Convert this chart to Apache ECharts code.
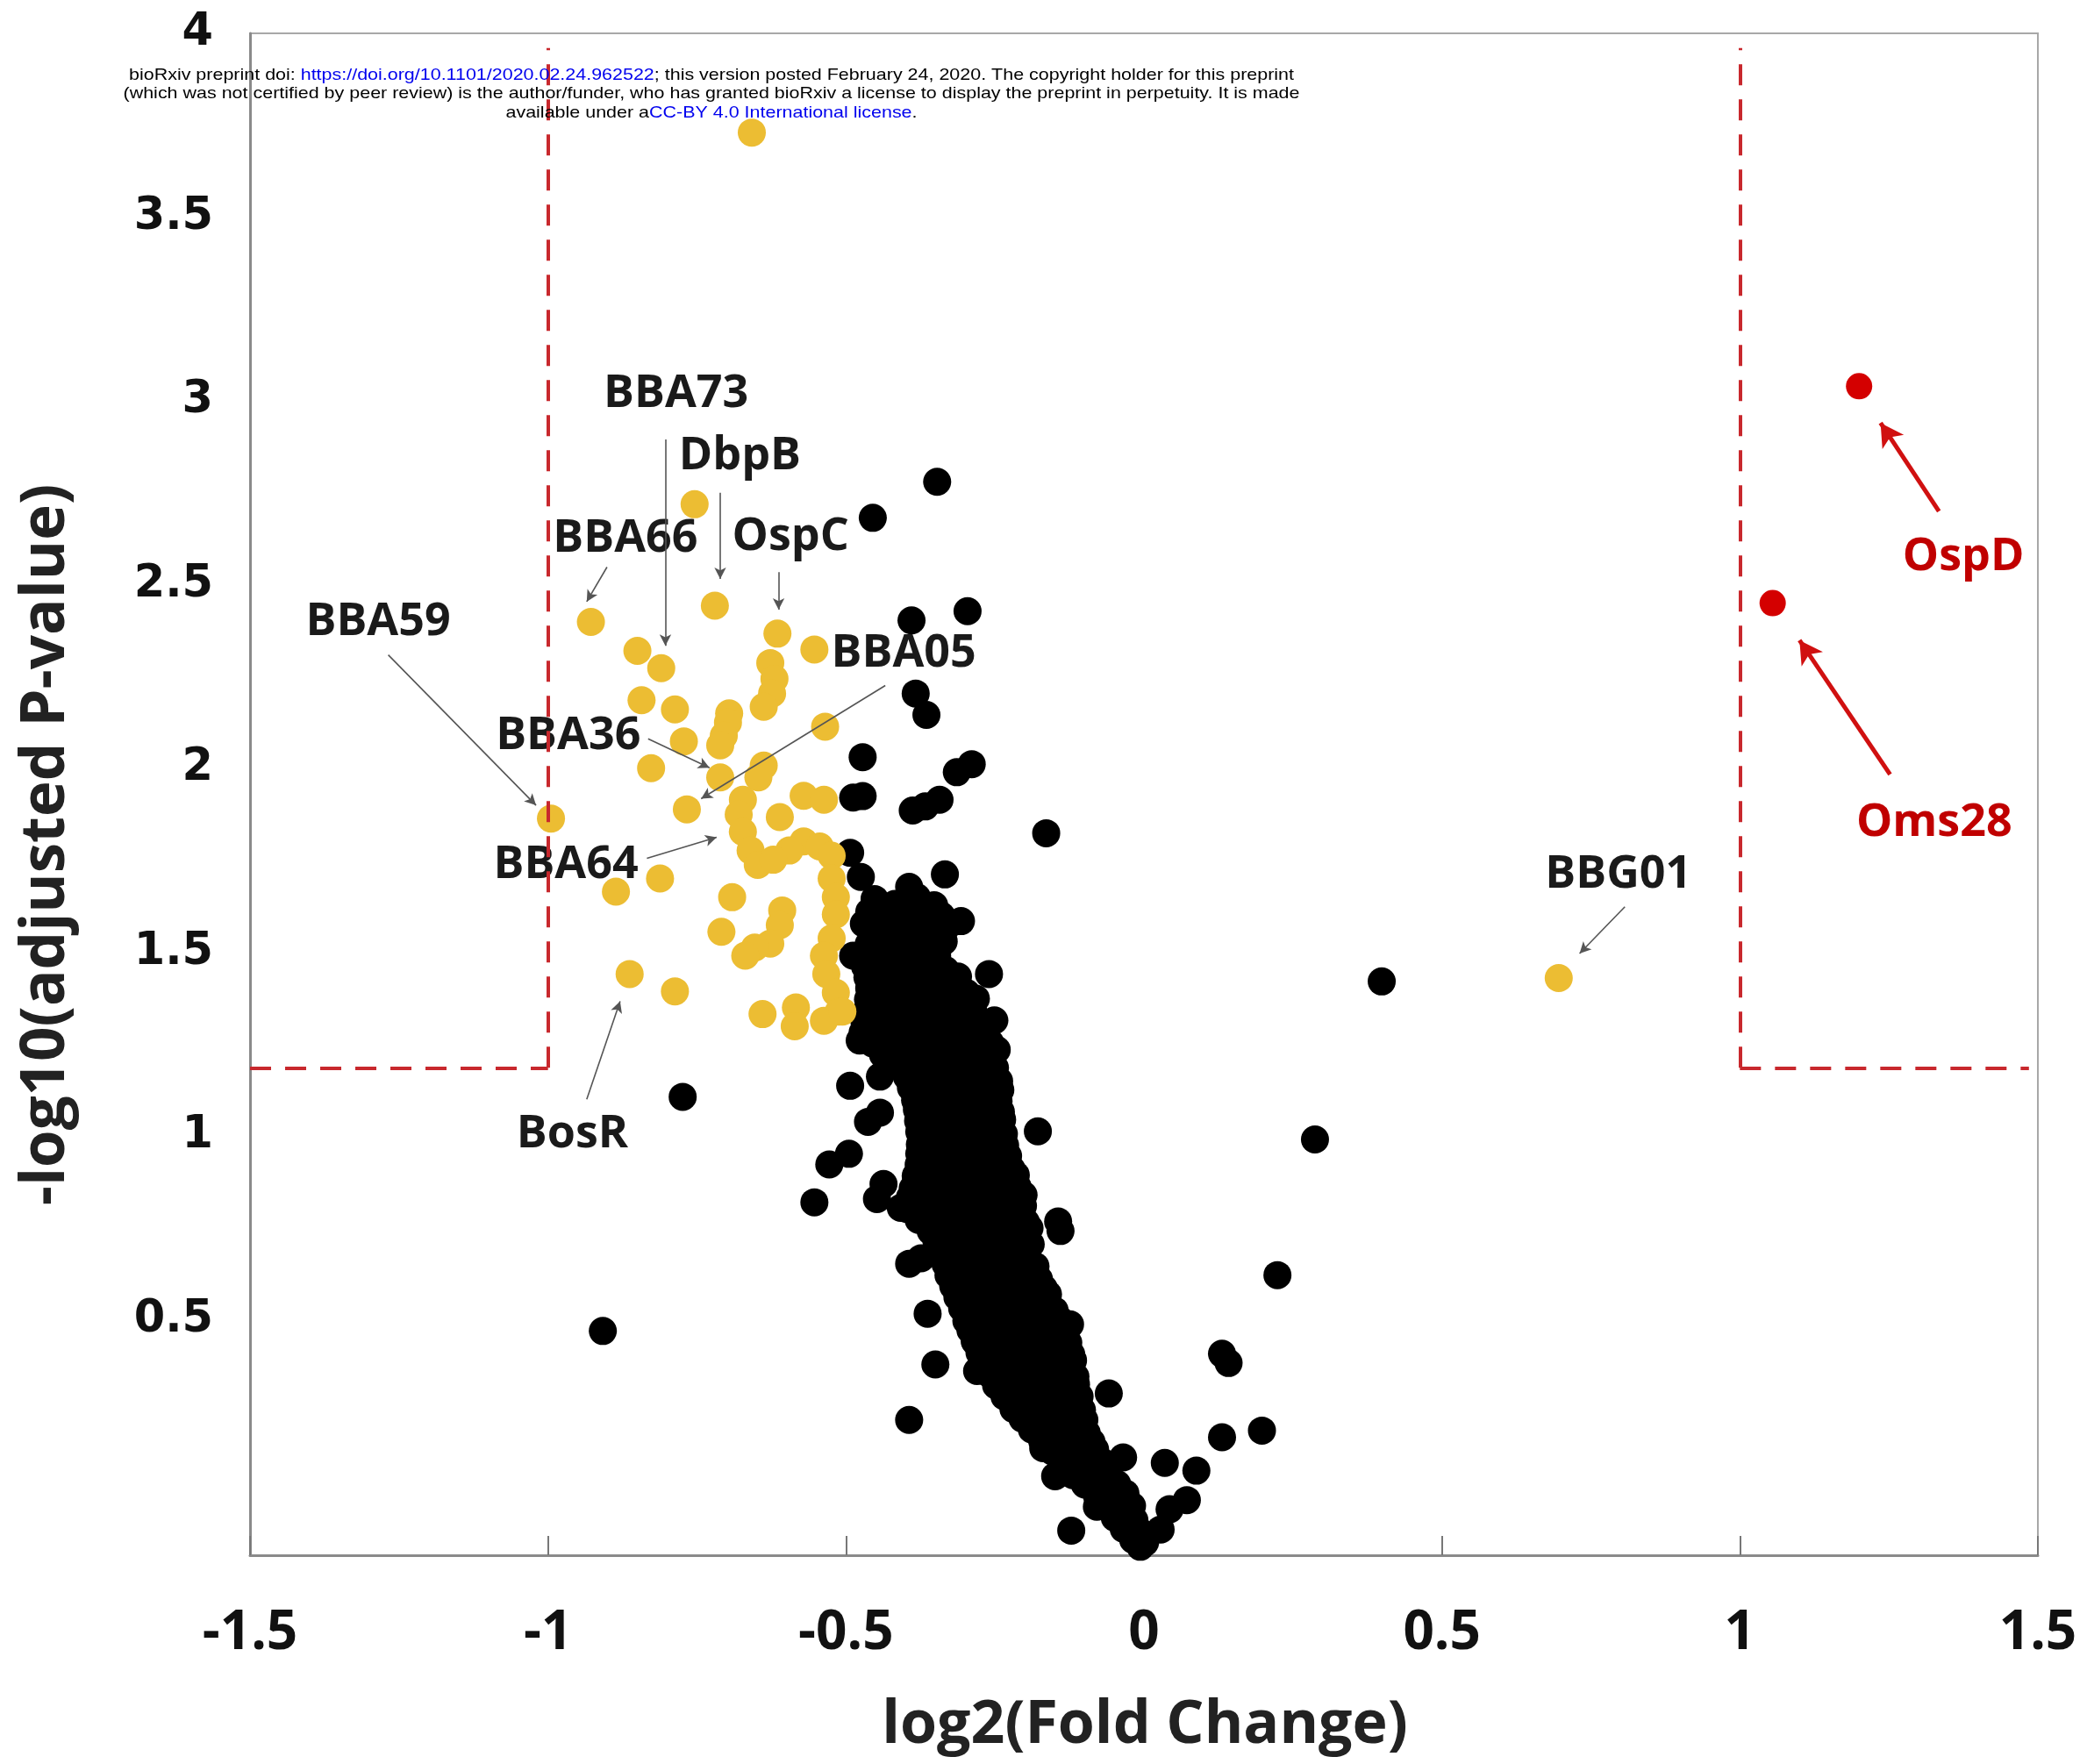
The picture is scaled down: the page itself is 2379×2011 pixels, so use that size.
<!DOCTYPE html>
<html>
<head>
<meta charset="utf-8">
<title>Volcano plot</title>
<script src="https://cdn.jsdelivr.net/npm/echarts@6/dist/echarts.min.js"></script>
<style>
  html, body { margin: 0; padding: 0; background: #fff; }
  #chart { width: 2379px; height: 2011px; }
</style>
</head>
<body>
<div id="chart"></div>
<script>
// values: x = log2(fold change), y = -log10(adjusted p)
const yTicks = [0.5, 1, 1.5, 2, 2.5, 3, 3.5, 4];
const fcCut = 1;
const pCut = 1.186;

// red: significant, up
const upPoints = [[1.200, 3.04], [1.055, 2.45]];

// yellow: labelled / highlighted proteins
const highlighted = [
  [-0.658, 3.730], [-0.754, 2.719], [-0.720, 2.443], [-0.928, 2.399], [-0.615, 2.367],
  [-0.553, 2.324], [-0.850, 2.320], [-0.810, 2.273], [-0.627, 2.287], [-0.620, 2.244],
  [-0.624, 2.204], [-0.843, 2.186], [-0.787, 2.161], [-0.638, 2.168], [-0.696, 2.150],
  [-0.698, 2.125], [-0.705, 2.089], [-0.711, 2.063], [-0.772, 2.074], [-0.535, 2.114],
  [-0.827, 2.001], [-0.711, 1.976], [-0.638, 2.008], [-0.647, 1.976], [-0.767, 1.889],
  [-0.995, 1.864], [-0.673, 1.915], [-0.680, 1.875], [-0.611, 1.868], [-0.571, 1.926],
  [-0.537, 1.915], [-0.673, 1.828], [-0.660, 1.777], [-0.648, 1.738], [-0.571, 1.802],
  [-0.544, 1.788], [-0.524, 1.763], [-0.595, 1.777], [-0.622, 1.752], [-0.524, 1.701],
  [-0.517, 1.650], [-0.517, 1.603], [-0.524, 1.538], [-0.812, 1.701], [-0.886, 1.665],
  [-0.691, 1.650], [-0.607, 1.614], [-0.611, 1.574], [-0.627, 1.524], [-0.653, 1.513],
  [-0.669, 1.491], [-0.709, 1.556], [-0.537, 1.491], [-0.533, 1.441], [-0.517, 1.390],
  [-0.512, 1.339], [-0.863, 1.441], [-0.787, 1.394], [-0.640, 1.332], [-0.584, 1.350],
  [-0.586, 1.299], [-0.537, 1.314], [-0.506, 1.339], [0.696, 1.430]
];

// black: scattered points
const otherScattered = [
  [-0.347, 2.780], [-0.455, 2.682], [-0.296, 2.428], [-0.390, 2.403], [-0.383, 2.204],
  [-0.365, 2.146], [-0.472, 2.031], [-0.289, 2.012], [-0.314, 1.990], [-0.488, 1.921],
  [-0.472, 1.925], [-0.343, 1.915], [-0.388, 1.886], [-0.367, 1.897], [-0.164, 1.824],
  [-0.493, 1.771], [-0.475, 1.705], [-0.334, 1.712], [-0.394, 1.678], [-0.307, 1.585],
  [-0.260, 1.441], [-0.251, 1.315], [-0.247, 1.235], [-0.178, 1.013], [-0.488, 1.491],
  [-0.448, 1.347], [-0.477, 1.260], [-0.493, 1.137], [-0.443, 1.162], [-0.463, 1.039],
  [-0.443, 1.064], [-0.528, 0.923], [-0.495, 0.952], [-0.437, 0.870], [-0.408, 0.805],
  [-0.553, 0.820], [-0.448, 0.829], [-0.394, 0.653], [-0.374, 0.668], [-0.363, 0.517],
  [-0.350, 0.379], [-0.394, 0.228], [-0.280, 0.361], [-0.291, 0.477], [-0.140, 0.742],
  [-0.144, 0.768], [-0.202, 0.840], [-0.124, 0.488], [-0.059, 0.300], [-0.035, 0.126],
  [0.035, 0.111], [0.088, 0.090], [0.072, 0.010], [0.043, -0.015], [-0.122, -0.073],
  [-0.006, -0.117], [0.028, -0.070], [-0.026, -0.044], [-0.169, 0.151], [-0.149, 0.075],
  [-0.079, -0.008], [0.131, 0.408], [0.142, 0.383], [0.131, 0.181], [0.198, 0.199],
  [0.224, 0.622], [0.287, 0.991], [0.399, 1.421], [-0.908, 0.470], [-0.774, 1.107]
];

// black: dense band, upper half
const otherBandUpper = [
  [-0.452, 1.645], [-0.418, 1.632], [-0.381, 1.650], [-0.352, 1.628],
  [-0.470, 1.578], [-0.436, 1.590], [-0.401, 1.572], [-0.366, 1.585], [-0.331, 1.570],
  [-0.462, 1.522], [-0.428, 1.515], [-0.392, 1.528], [-0.357, 1.512], [-0.336, 1.530],
  [-0.468, 1.462], [-0.433, 1.470], [-0.398, 1.455], [-0.364, 1.466], [-0.333, 1.452],
  [-0.461, 1.402], [-0.426, 1.395], [-0.390, 1.410], [-0.355, 1.398], [-0.321, 1.405], [-0.298, 1.390],
  [-0.466, 1.338], [-0.431, 1.346], [-0.396, 1.332], [-0.360, 1.344], [-0.325, 1.335], [-0.287, 1.348],
  [-0.472, 1.282], [-0.437, 1.275], [-0.401, 1.288], [-0.366, 1.272], [-0.331, 1.285], [-0.296, 1.278], [-0.268, 1.290],
  [-0.438, 1.222], [-0.404, 1.215], [-0.369, 1.228], [-0.334, 1.212], [-0.299, 1.225], [-0.262, 1.218],
  [-0.398, 1.162], [-0.362, 1.155], [-0.327, 1.168], [-0.292, 1.152], [-0.257, 1.165], [-0.243, 1.150],
  [-0.384, 1.098], [-0.349, 1.105], [-0.314, 1.092], [-0.279, 1.108], [-0.244, 1.095],
  [-0.379, 1.042], [-0.344, 1.035], [-0.309, 1.048], [-0.274, 1.032], [-0.238, 1.045],
  [-0.376, 0.978], [-0.341, 0.985], [-0.305, 0.972], [-0.270, 0.988], [-0.233, 0.975],
  [-0.378, 0.922], [-0.343, 0.915], [-0.307, 0.928], [-0.272, 0.912], [-0.237, 0.925], [-0.222, 0.910]
];

// black: dense band, lower half
const otherBandLower = [
  [-0.388, 0.858], [-0.353, 0.865], [-0.318, 0.852], [-0.282, 0.868], [-0.247, 0.855], [-0.212, 0.862],
  [-0.398, 0.802], [-0.363, 0.795], [-0.328, 0.808], [-0.293, 0.792], [-0.257, 0.805], [-0.222, 0.798], [-0.203, 0.810],
  [-0.358, 0.742], [-0.323, 0.748], [-0.288, 0.735], [-0.252, 0.745], [-0.217, 0.738], [-0.192, 0.750],
  [-0.339, 0.678], [-0.304, 0.685], [-0.268, 0.672], [-0.233, 0.688], [-0.198, 0.675],
  [-0.328, 0.622], [-0.293, 0.615], [-0.258, 0.628], [-0.222, 0.612], [-0.187, 0.625], [-0.176, 0.610],
  [-0.313, 0.562], [-0.278, 0.568], [-0.243, 0.555], [-0.208, 0.565], [-0.173, 0.552], [-0.161, 0.570],
  [-0.298, 0.498], [-0.263, 0.505], [-0.228, 0.492], [-0.193, 0.508], [-0.158, 0.495], [-0.142, 0.502],
  [-0.284, 0.442], [-0.249, 0.435], [-0.214, 0.448], [-0.179, 0.432], [-0.144, 0.445], [-0.127, 0.438],
  [-0.268, 0.378], [-0.233, 0.385], [-0.198, 0.372], [-0.163, 0.388], [-0.128, 0.375], [-0.119, 0.390],
  [-0.248, 0.322], [-0.213, 0.315], [-0.178, 0.328], [-0.143, 0.312], [-0.114, 0.325],
  [-0.219, 0.258], [-0.184, 0.265], [-0.149, 0.252], [-0.114, 0.268], [-0.104, 0.255],
  [-0.188, 0.202], [-0.153, 0.195], [-0.118, 0.208], [-0.096, 0.192],
  [-0.153, 0.142], [-0.118, 0.135], [-0.082, 0.148],
  [-0.119, 0.078], [-0.086, 0.085], [-0.061, 0.072],
  [-0.079, 0.022], [-0.047, 0.015], [-0.031, 0.028],
  [-0.049, -0.038], [-0.016, -0.045],
  [-0.018, -0.098], [0.002, -0.105]
];

// black: dense band, points lying between the rows above
const otherBandFill = [
  [-0.461, 1.610], [-0.427, 1.604], [-0.391, 1.612], [-0.358, 1.606], [-0.340, 1.600],
  [-0.453, 1.552], [-0.418, 1.546], [-0.383, 1.556], [-0.348, 1.548],
  [-0.465, 1.492], [-0.450, 1.488], [-0.415, 1.494], [-0.380, 1.486], [-0.347, 1.490],
  [-0.464, 1.432], [-0.443, 1.428], [-0.408, 1.436], [-0.372, 1.430], [-0.338, 1.426], [-0.312, 1.434],
  [-0.463, 1.372], [-0.444, 1.366], [-0.408, 1.374], [-0.373, 1.368], [-0.338, 1.372], [-0.306, 1.366], [-0.282, 1.374],
  [-0.469, 1.312], [-0.449, 1.306], [-0.413, 1.314], [-0.378, 1.308], [-0.343, 1.312], [-0.308, 1.306], [-0.276, 1.314],
  [-0.455, 1.252], [-0.420, 1.246], [-0.385, 1.254], [-0.350, 1.248], [-0.315, 1.252], [-0.280, 1.246], [-0.258, 1.254],
  [-0.418, 1.192], [-0.386, 1.186], [-0.350, 1.194], [-0.315, 1.188], [-0.280, 1.192], [-0.250, 1.186],
  [-0.391, 1.132], [-0.367, 1.126], [-0.331, 1.134], [-0.296, 1.128], [-0.261, 1.132], [-0.241, 1.126],
  [-0.381, 1.072], [-0.361, 1.066], [-0.326, 1.074], [-0.291, 1.068], [-0.256, 1.072], [-0.240, 1.066],
  [-0.377, 1.012], [-0.358, 1.006], [-0.323, 1.014], [-0.288, 1.008], [-0.252, 1.012], [-0.235, 1.006],
  [-0.377, 0.952], [-0.359, 0.946], [-0.324, 0.954], [-0.289, 0.948], [-0.254, 0.952], [-0.228, 0.946],
  [-0.383, 0.892], [-0.365, 0.886], [-0.330, 0.894], [-0.295, 0.888], [-0.260, 0.892], [-0.226, 0.886], [-0.215, 0.894],
  [-0.393, 0.832], [-0.370, 0.826], [-0.335, 0.834], [-0.300, 0.828], [-0.265, 0.832], [-0.230, 0.826], [-0.207, 0.834],
  [-0.378, 0.772], [-0.341, 0.766], [-0.306, 0.774], [-0.270, 0.768], [-0.235, 0.772], [-0.198, 0.766],
  [-0.348, 0.712], [-0.321, 0.706], [-0.286, 0.714], [-0.250, 0.708], [-0.215, 0.712], [-0.190, 0.706],
  [-0.333, 0.652], [-0.311, 0.646], [-0.276, 0.654], [-0.240, 0.648], [-0.205, 0.652], [-0.182, 0.646],
  [-0.320, 0.592], [-0.296, 0.586], [-0.261, 0.594], [-0.226, 0.588], [-0.190, 0.592], [-0.168, 0.586],
  [-0.305, 0.532], [-0.281, 0.526], [-0.246, 0.534], [-0.211, 0.528], [-0.176, 0.532], [-0.150, 0.526],
  [-0.291, 0.472], [-0.266, 0.466], [-0.231, 0.474], [-0.196, 0.468], [-0.161, 0.472], [-0.134, 0.466],
  [-0.276, 0.412], [-0.251, 0.406], [-0.216, 0.414], [-0.181, 0.408], [-0.146, 0.412], [-0.122, 0.406],
  [-0.258, 0.352], [-0.231, 0.346], [-0.196, 0.354], [-0.161, 0.348], [-0.126, 0.352], [-0.115, 0.346],
  [-0.234, 0.292], [-0.201, 0.286], [-0.166, 0.294], [-0.131, 0.288], [-0.108, 0.292],
  [-0.204, 0.232], [-0.170, 0.226], [-0.135, 0.234], [-0.100, 0.228],
  [-0.171, 0.172], [-0.136, 0.166], [-0.100, 0.174], [-0.088, 0.168],
  [-0.136, 0.112], [-0.102, 0.106], [-0.070, 0.114],
  [-0.099, 0.052], [-0.066, 0.046], [-0.045, 0.054],
  [-0.064, -0.008], [-0.037, -0.014], [-0.020, -0.006],
  [-0.034, -0.068], [-0.008, -0.074]
];

// annotations
const labelNames = ['BBA73', 'DbpB', 'BBA66', 'OspC', 'BBA59', 'BBA05', 'BBA36', 'BBA64', 'BosR', 'BBG01', 'OspD', 'Oms28'];
const labelX = [-0.785, -0.678, -0.870, -0.593, -1.285, -0.403, -0.966, -0.970, -0.959, 0.796, 1.375, 1.326];
const labelY = [3.019, 2.849, 2.625, 2.631, 2.399, 2.313, 2.088, 1.737, 1.006, 1.712, 2.574, 1.853];
const arrowFrom = [[-0.803, 2.895], [-0.711, 2.750], [-0.901, 2.548], [-0.613, 2.534], [-1.268, 2.309], [-0.434, 2.226],
  [-0.832, 2.081], [-0.834, 1.756], [-0.935, 1.100], [0.807, 1.624], [1.334, 2.700], [1.252, 1.984]];
const arrowTo = [[-0.803, 2.334], [-0.711, 2.516], [-0.935, 2.454], [-0.613, 2.432], [-1.020, 1.900], [-0.743, 1.918],
  [-0.729, 2.002], [-0.717, 1.813], [-0.879, 1.367], [0.731, 1.497], [1.236, 2.940], [1.100, 2.349]];

const RED = '#c00000';
const labelFont = 'Open Sans';

let chart = echarts.init(document.getElementById('chart'));

let arrowLines = arrowFrom.map((a, i) => {
  let red = labelNames[i] === 'OspD' || labelNames[i] === 'Oms28';
  let ls = red ? { color: '#d01010', width: 5, type: 'solid', opacity: 1 } : { color: '#555', width: 1.6, type: 'solid', opacity: 1 };
  return [
    { coord: a, symbol: 'none', lineStyle: ls },
    { coord: arrowTo[i], symbol: 'arrow', symbolSize: red ? [22, 26] : [10, 13], lineStyle: ls }
  ];
});

let cutLines = [
  [{ coord: [-1.5, pCut] }, { coord: [-fcCut, pCut] }],
  [{ coord: [-fcCut, pCut] }, { coord: [-fcCut, 3.96] }],
  [{ coord: [fcCut, pCut] }, { coord: [1.485, pCut] }],
  [{ coord: [fcCut, pCut] }, { coord: [fcCut, 3.96] }]
];

let headerRich = {
  k: { fill: '#000', fontSize: 19, fontFamily: 'Liberation Sans' },
  u: { fill: '#0000ee', fontSize: 19, fontFamily: 'Liberation Sans' }
};

let option = {
  animation: false,
  backgroundColor: '#fff',
  grid: {
    left: 285, right: 56, top: 38, bottom: 238,
    show: true, borderColor: '#a8a8a8', borderWidth: 2
  },
  xAxis: {
    type: 'value', min: -1.5, max: 1.5, interval: 0.5,
    axisLine: { onZero: false, lineStyle: { color: '#8a8a8a', width: 3 } },
    axisTick: { inside: true, length: 22, lineStyle: { color: '#777', width: 2 } },
    splitLine: { show: false },
    axisLabel: {
      margin: 58, fontSize: 62, fontWeight: 'bold', fontFamily: labelFont, color: '#111',
      formatter: (v) => String(v)
    }
  },
  yAxis: {
    type: 'value', min: -0.14, max: 4,
    axisLine: { onZero: false, lineStyle: { color: '#8a8a8a', width: 3 } },
    axisTick: { show: false },
    splitLine: { show: false },
    axisLabel: {
      customValues: yTicks, margin: 42, fontSize: 51, fontWeight: 'bold',
      fontFamily: 'DejaVu Sans', color: '#111', formatter: (v) => String(v)
    }
  },
  series: [
    {
      name: 'other', type: 'scatter', symbolSize: 32,
      itemStyle: { color: '#000', opacity: 1 },
      data: otherScattered.concat(otherBandUpper, otherBandFill, otherBandLower),
      markLine: {
        silent: true, symbol: ['none', 'none'], label: { show: false },
        lineStyle: { color: '#c8282d', width: 4, type: [24, 16], opacity: 1 },
        data: cutLines
      }
    },
    {
      name: 'highlighted', type: 'scatter', symbolSize: 32,
      itemStyle: { color: '#ecbd33', opacity: 1 },
      data: highlighted
    },
    {
      name: 'up', type: 'scatter', symbolSize: 30,
      itemStyle: { color: '#d40000', opacity: 1 },
      data: upPoints
    },
    {
      name: 'labels', type: 'scatter', symbolSize: 0, silent: true,
      itemStyle: { opacity: 1 },
      label: {
        show: true, position: 'inside', formatter: '{b}',
        fontFamily: labelFont, fontWeight: 'bold', fontSize: 52, color: '#1a1a1a'
      },
      data: labelNames.map((n, i) => ({
        name: n, value: [labelX[i], labelY[i]],
        label: (n === 'OspD' || n === 'Oms28') ? { color: RED } : undefined
      })),
      markLine: {
        silent: true, label: { show: false },
        data: arrowLines
      }
    }
  ],
  graphic: [
    {
      type: 'text', x: 811, y: 86, z: 100, scaleX: 1.13,
      style: {
        text: '{k|bioRxiv preprint doi: }{u|https://doi.org/10.1101/2020.02.24.962522}{k|; this version posted February 24, 2020. The copyright holder for this preprint}',
        align: 'center', verticalAlign: 'middle', fontSize: 19, fontFamily: 'Liberation Sans',
        rich: headerRich
      }
    },
    {
      type: 'text', x: 811, y: 107, z: 100, scaleX: 1.13,
      style: {
        text: '(which was not certified by peer review) is the author/funder, who has granted bioRxiv a license to display the preprint in perpetuity. It is made',
        align: 'center', verticalAlign: 'middle', fontSize: 19, fontFamily: 'Liberation Sans', fill: '#000'
      }
    },
    {
      type: 'text', x: 811, y: 129, z: 100, scaleX: 1.13,
      style: {
        text: '{k|available under a}{u|CC-BY 4.0 International license}{k|.}',
        align: 'center', verticalAlign: 'middle', fontSize: 19, fontFamily: 'Liberation Sans',
        rich: headerRich
      }
    },
    {
      type: 'text', x: 1305, y: 1968, z: 100,
      style: {
        text: 'log2(Fold Change)', align: 'center', verticalAlign: 'middle',
        fontSize: 68, fontWeight: 'bold', fontFamily: labelFont, fill: '#222'
      }
    },
    {
      type: 'text', x: 53, y: 963, z: 100, rotation: Math.PI / 2,
      style: {
        text: '-log10(adjusted P-value)', align: 'center', verticalAlign: 'middle',
        fontSize: 69, fontWeight: 'bold', fontFamily: labelFont, fill: '#222'
      }
    }
  ]
};

option && chart.setOption(option);
</script>
</body>
</html>
